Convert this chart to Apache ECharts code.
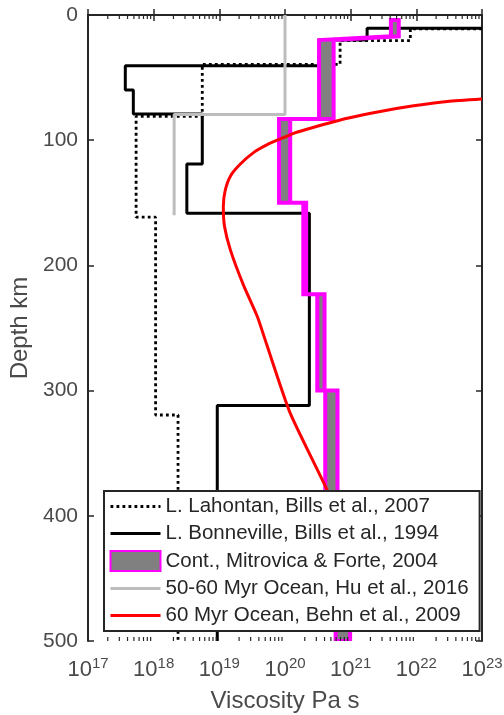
<!DOCTYPE html>
<html>
<head>
<meta charset="utf-8">
<script src="https://cdn.jsdelivr.net/npm/echarts@6/dist/echarts.min.js"></script>
<style>
html, body { margin: 0; padding: 0; background: #fff; }
#main { width: 504px; height: 715px; }
</style>
</head>
<body>
<div id="main"></div>
<script>
// depth in km, viscosity in Pa s
var lahontanDepth = [11, 11, 20.5, 20.5, 39.5, 39.5, 81, 81, 161.5, 161.5, 319.5, 319.5, 500];
var lahontanVisc = [1e23, 8.1e21, 8.1e21, 6.9e20, 6.9e20, 5.5e18, 5.5e18, 5.4e17, 5.4e17, 1.07e18, 1.07e18, 2.35e18, 2.35e18];

var bonnevilleDepth = [10.6, 10.6, 20, 20, 40.5, 40.5, 60, 60, 79, 79, 119, 119, 158.4, 158.4, 312, 312, 500];
var bonnevilleVisc = [1e23, 1.78e21, 1.78e21, 3.3e20, 3.3e20, 3.7e17, 3.7e17, 4.9e17, 4.9e17, 5.5e18, 5.5e18, 3.2e18, 3.2e18, 2.35e20, 2.35e20, 9.3e18, 9.3e18];

// Mitrovica & Forte band: lower and upper bound per vertex
var mfDepth = [4, 17, 20, 83, 83, 150, 150, 223, 223, 300, 300, 460, 460, 500];
var mfMin = [4.1e21, 4.1e21, 3.3e20, 3.3e20, 8.1e19, 8.1e19, 1.9e20, 1.9e20, 3.1e20, 3.1e20, 4.1e20, 4.1e20, 5.9e20, 5.9e20];
var mfMax = [5.4e21, 5.4e21, 5.5e20, 5.5e20, 1.2e20, 1.2e20, 2.1e20, 2.1e20, 4.0e20, 4.0e20, 6.3e20, 6.3e20, 9.8e20, 9.8e20];

var huDepth = [0, 79.5, 79.5, 160];
var huVisc = [1e20, 1e20, 2.05e18, 2.05e18];

var behnDepth = [67, 69, 72.5, 77, 82.5, 89.7, 94.5, 99, 103.5, 109.5, 119, 128.5, 140, 153, 169, 188, 216, 241, 263, 318, 379.4, 400];
var behnVisc = [1e23, 2.95e22, 9.1e21, 2.82e21, 8.9e20, 2.75e20, 1.35e20, 8.5e19, 5.37e19, 3.39e19, 2.09e19, 1.48e19, 1.23e19, 1.15e19, 1.2e19, 1.48e19, 2.34e19, 3.8e19, 5.25e19, 1.2e20, 4.37e20, 6.0e20];

var names = [
	'L. Lahontan, Bills et al., 2007',
	'L. Bonneville, Bills et al., 1994',
	'Cont., Mitrovica & Forte, 2004',
	'50-60 Myr Ocean, Hu et al., 2016',
	'60 Myr Ocean, Behn et al., 2009'
];

var xTickExp = [17, 18, 19, 20, 21, 22, 23];
var yTicks = [0, 100, 200, 300, 400, 500];

// minor ticks of the log axis (2..9 in each decade)
var minorTicks = [];
for (var e = 17; e < 23; e++) {
	for (var m = 2; m <= 9; m++) minorTicks.push(m * Math.pow(10, e));
}

function pairs(xs, ys) {
	var out = [];
	for (var i = 0; i < xs.length; i++) out.push([xs[i], ys[i]]);
	return out;
}

var font = '"Liberation Sans", Arial, Helvetica, sans-serif';
var axisColor = '#262626';
var labelColor = '#4a4a4a';
var noMarker = { color: 'rgba(0,0,0,0)', borderWidth: 0 };

var chart = echarts.init(document.getElementById('main'));

var option = {
	animation: false,
	textStyle: { fontFamily: font },
	grid: { left: 88, right: 22, top: 15, bottom: 74, outerBoundsMode: 'none', containLabel: false },
	legend: {
		z: 20,
		orient: 'vertical',
		left: 104,
		top: 491,
		padding: [5, 11, 5, 5],
		itemGap: 6,
		itemWidth: 50,
		itemHeight: 20,
		backgroundColor: '#fff',
		borderColor: axisColor,
		borderWidth: 2,
		borderRadius: 0,
		lineStyle: { width: 3 },
		textStyle: { fontSize: 20.5, color: '#262626', fontFamily: font },
		data: [
			{ name: names[0], itemStyle: noMarker, lineStyle: { width: 2.8 } },
			{ name: names[1], itemStyle: noMarker },
			{ name: names[2], icon: 'rect' },
			{ name: names[3], itemStyle: noMarker },
			{ name: names[4], itemStyle: noMarker }
		]
	},
	xAxis: [{
		type: 'log',
		logBase: 10,
		min: 1e17,
		max: 1e23,
		splitNumber: 6,
		position: 'bottom',
		name: 'Viscosity Pa s',
		nameLocation: 'middle',
		nameGap: 48,
		nameTextStyle: { fontSize: 24, color: labelColor, fontFamily: font },
		axisLine: { lineStyle: { color: axisColor, width: 2 } },
		axisTick: { inside: true, length: 6, lineStyle: { color: axisColor, width: 1.5 } },
		splitLine: { show: false },
		axisLabel: {
			margin: 15,
			formatter: function (v) {
				var e = Math.round(Math.log10(v));
				if (xTickExp.indexOf(e) < 0) return '';
				return '{b|10}{s|' + e + '}';
			},
			rich: {
				b: { fontSize: 22, color: labelColor, fontFamily: font },
				s: { fontSize: 15, color: labelColor, fontFamily: font, padding: [0, 0, 12, 0] }
			}
		}
	}, {
		type: 'log',
		logBase: 10,
		min: 1e17,
		max: 1e23,
		splitNumber: 6,
		position: 'top',
		axisLine: { lineStyle: { color: axisColor, width: 2 } },
		axisTick: { inside: true, length: 6, lineStyle: { color: axisColor, width: 1.5 } },
		axisLabel: { show: false },
		splitLine: { show: false }
	}],
	yAxis: [{
		type: 'value',
		inverse: true,
		min: 0,
		max: 500,
		interval: 100,
		position: 'left',
		name: 'Depth km',
		nameLocation: 'middle',
		nameGap: 45,
		nameTextStyle: { fontSize: 24, color: labelColor, fontFamily: font },
		axisLine: { lineStyle: { color: axisColor, width: 2 } },
		axisTick: { inside: true, length: 6, lineStyle: { color: axisColor, width: 1.5 } },
		splitLine: { show: false },
		axisLabel: {
			margin: 10,
			fontSize: 21,
			color: labelColor,
			fontFamily: font,
			formatter: function (v) { return yTicks.indexOf(v) >= 0 ? String(v) : ''; }
		}
	}, {
		type: 'value',
		inverse: true,
		min: 0,
		max: 500,
		interval: 100,
		position: 'right',
		axisLine: { show: true, lineStyle: { color: axisColor, width: 2 } },
		axisTick: { show: true, inside: true, length: 6, lineStyle: { color: axisColor, width: 1.5 } },
		axisLabel: { show: false },
		splitLine: { show: false }
	}],
	series: [{
		name: names[0],
		type: 'line',
		symbol: 'none',
		z: 2,
		lineStyle: { color: '#000', width: 2.8, type: [2.8, 3.2], cap: 'butt' },
		data: pairs(lahontanVisc, lahontanDepth)
	}, {
		name: names[1],
		type: 'line',
		symbol: 'none',
		z: 3,
		lineStyle: { color: '#000', width: 3 },
		data: pairs(bonnevilleVisc, bonnevilleDepth)
	}, {
		name: names[2],
		type: 'custom',
		z: 4,
		clip: true,
		itemStyle: { color: '#808080', borderColor: '#ff00ff', borderWidth: 3 },
		data: [0],
		renderItem: function (params, api) {
			var pts = [];
			for (var i = 0; i < mfDepth.length; i++) pts.push(api.coord([mfMin[i], mfDepth[i]]));
			for (var j = mfDepth.length - 1; j >= 0; j--) pts.push(api.coord([mfMax[j], mfDepth[j]]));
			return {
				type: 'polygon',
				shape: { points: pts },
				style: { fill: '#808080', stroke: '#ff00ff', lineWidth: 4, lineJoin: 'miter' }
			};
		}
	}, {
		name: names[3],
		type: 'line',
		symbol: 'none',
		z: 5,
		lineStyle: { color: '#bdbdbd', width: 3 },
		data: pairs(huVisc, huDepth)
	}, {
		name: names[4],
		type: 'line',
		symbol: 'none',
		z: 6,
		smooth: 0.2,
		lineStyle: { color: '#ff0000', width: 3 },
		data: pairs(behnVisc, behnDepth)
	}, {
		name: 'minor',
		type: 'custom',
		silent: true,
		z: 7,
		data: minorTicks,
		renderItem: function (params, api) {
			var v = api.value(0);
			var b = api.coord([v, 500]);
			var t = api.coord([v, 0]);
			return {
				type: 'group',
				children: [
					{ type: 'line', shape: { x1: b[0], y1: b[1], x2: b[0], y2: b[1] - 4 }, style: { stroke: axisColor, lineWidth: 1.2 } },
					{ type: 'line', shape: { x1: t[0], y1: t[1], x2: t[0], y2: t[1] + 4 }, style: { stroke: axisColor, lineWidth: 1.2 } }
				]
			};
		},
		encode: { x: 0 }
	}]
};

chart.setOption(option);
</script>
</body>
</html>
